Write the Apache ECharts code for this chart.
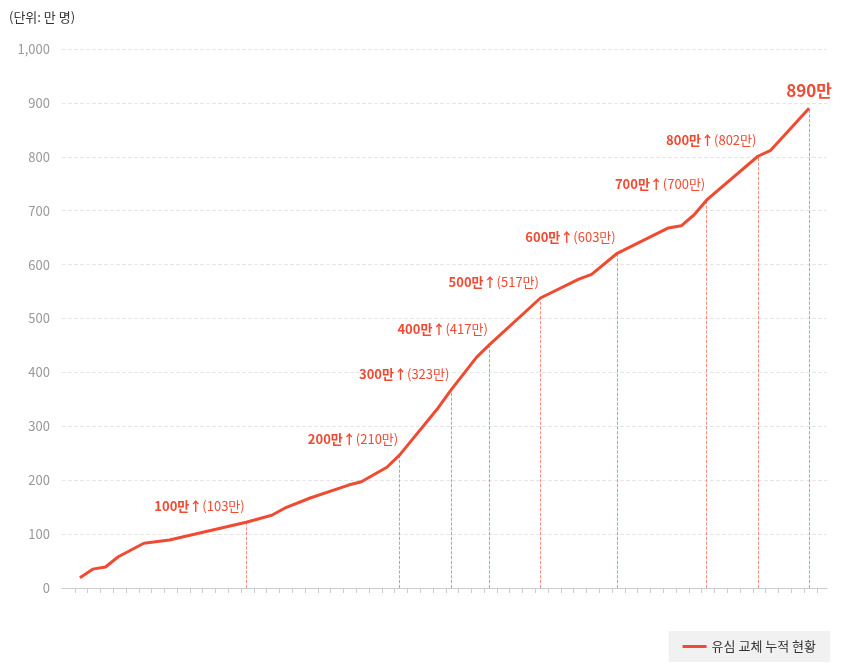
<!DOCTYPE html>
<html><head><meta charset="utf-8">
<script src="https://cdn.jsdelivr.net/npm/echarts@6/dist/echarts.min.js"></script>
<style>html,body{margin:0;padding:0;background:#fff}#c{width:847px;height:671px}</style>
</head><body><div id="c"></div>
<script>
const startDate = [4, 22];
const dayIdx = [0,1,2,3,5,7,13,15,16,18,21,22,24,25,28,29,31,32,36,39,40,42,46,47,48,49,53,54,57];
const values = [19,35,39,58,83,89,122,135,148,167,191,197,224,247,334,367,428,451,538,573,582,621,668,672,692,720,801,812,890];
const tickDays = [0,13,25,29,32,36,42,49,53,57];
const tickLabels = ['4/22','5/5','5/17','5/21','5/24','5/28','6/3','6/10','6/14','6/18'];
const msDays = [13,25,29,32,36,42,49,53];
const msMain = ['100만↑','200만↑','300만↑','400만↑','500만↑','600만↑','700만↑','800만↑'];
const msSub = ['(103만)','(210만)','(323만)','(417만)','(517만)','(603만)','(700만)','(802만)'];
const finalLabel = '890만';
const seriesName = '유심 교체 누적 현황';

const RED = '#f04a32';
const F = '"Noto Sans CJK KR","Noto Sans",sans-serif';
const valAt = d => values[dayIdx.indexOf(d)];
const chart = echarts.init(document.getElementById('c'));
chart.setOption({
  textStyle:{fontFamily:F},
  title:{text:'(단위: 만 명)',left:4,top:6,textStyle:{fontSize:13,fontWeight:'normal',color:'#333',fontFamily:F}},
  grid:{left:62,right:20,top:49,bottom:83},
  legend:{right:17,bottom:9,padding:[9,14,9,14],backgroundColor:'#f1f1f1',itemWidth:24,itemHeight:3,
    textStyle:{fontSize:13,color:'#333',fontFamily:F},icon:'rect',data:[seriesName]},
  xAxis:{type:'value',min:-1.4,max:58.4,interval:1,
    axisLine:{lineStyle:{color:'#ccc'}},axisTick:{show:true,length:5,lineStyle:{color:'#ccc'}},
    splitLine:{show:false},
    axisLabel:{fontSize:13,color:'#999',margin:10,showMinLabel:false,showMaxLabel:false,
      formatter:v=>{const i=tickDays.indexOf(Math.round(v*10)/10);if(i<0)return '';return i===tickDays.length-1?'{b|'+tickLabels[i]+'}':tickLabels[i];},
      rich:{b:{fontWeight:'bold',color:'#222',fontSize:13}}}},
  yAxis:{type:'value',min:0,max:1000,interval:100,
    axisLine:{show:false},axisTick:{show:false},
    axisLabel:{fontSize:13,color:'#999',margin:12},
    splitLine:{lineStyle:{color:'#e6e6e6',type:'dashed'}}},
  series:[{
    name:seriesName,type:'line',showSymbol:false,color:RED,
    lineStyle:{width:3,color:RED},
    data:dayIdx.map((d,i)=>[d,values[i]]),
    markLine:{silent:true,symbol:'none',label:{show:false},
      lineStyle:{color:RED,type:'dashed',width:0.8,opacity:0.8},
      data:msDays.concat([57]).map(d=>[{coord:[d,0]},{coord:[d,valAt(d)]}])},
    markPoint:{silent:true,symbol:'circle',symbolSize:1,itemStyle:{color:'rgba(0,0,0,0)'},
      data:msDays.map((d,i)=>({coord:[d,valAt(d)],
        label:{show:true,position:'left',offset:[4,-16],
          formatter:'{a|'+msMain[i]+'}{s|'+msSub[i]+'}',
          rich:{a:{fontWeight:'bold',fontSize:13,color:RED,fontFamily:F},s:{fontSize:13,color:RED,fontFamily:F}}}}))
        .concat([{coord:[57,890],label:{show:true,position:'top',offset:[0,-4],formatter:finalLabel,
          fontSize:17,fontWeight:'bold',color:RED,fontFamily:F}}])}
  }]
});
</script></body></html>
